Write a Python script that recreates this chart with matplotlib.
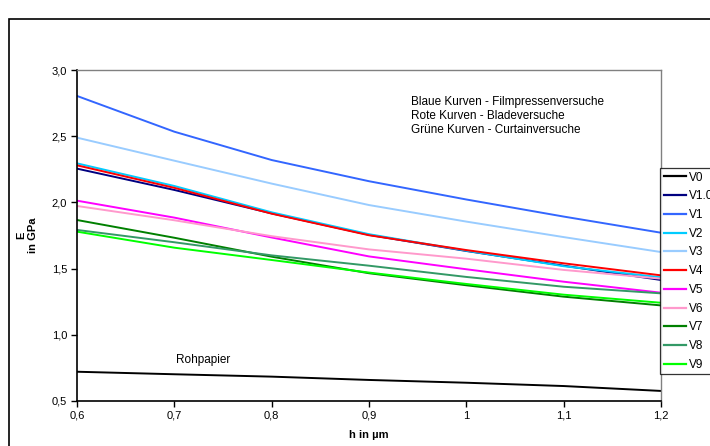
import matplotlib
matplotlib.use("Agg")
import matplotlib.pyplot as plt
from matplotlib.patches import Rectangle
from matplotlib.ticker import FuncFormatter, MultipleLocator

plt.rcParams['font.family'] = ['Liberation Sans', 'DejaVu Sans']

# Schichtdicke h in µm
h = [0.6, 0.7, 0.8, 0.9, 1.0, 1.1, 1.2]

# E-Modul in GPa je Versuch
V0 = [0.721, 0.702, 0.684, 0.659, 0.638, 0.613, 0.576]
V1_0 = [2.255, 2.094, 1.917, 1.755, 1.633, 1.522, 1.414]
V1 = [2.804, 2.534, 2.320, 2.160, 2.022, 1.893, 1.771]
V2 = [2.295, 2.124, 1.925, 1.760, 1.635, 1.518, 1.434]
V3 = [2.489, 2.315, 2.142, 1.980, 1.855, 1.738, 1.625]
V4 = [2.280, 2.110, 1.915, 1.752, 1.640, 1.540, 1.449]
V5 = [2.013, 1.885, 1.735, 1.592, 1.495, 1.401, 1.318]
V6 = [1.973, 1.865, 1.745, 1.645, 1.575, 1.490, 1.424]
V7 = [1.867, 1.733, 1.590, 1.465, 1.374, 1.288, 1.222]
V8 = [1.792, 1.699, 1.600, 1.522, 1.437, 1.363, 1.313]
V9 = [1.779, 1.658, 1.565, 1.470, 1.384, 1.303, 1.242]

namen = ["V0", "V1.0", "V1", "V2", "V3", "V4", "V5", "V6", "V7", "V8", "V9"]
reihen = [V0, V1_0, V1, V2, V3, V4, V5, V6, V7, V8, V9]
farben = ["#000000", "#000080", "#3366FF", "#00CCFF", "#99CCFF", "#FF0000",
          "#FF00FF", "#FF99CC", "#008000", "#339966", "#00FF00"]

fig = plt.figure(figsize=(7.10, 4.46), dpi=100)
# Rahmen um den Diagrammbereich
fig.patches.append(Rectangle((8.5 / 710, -0.1), 1.2, 1 - 19 / 446 + 0.1,
                             transform=fig.transFigure, fill=False,
                             edgecolor="black", linewidth=1.2))

ax = fig.add_axes([77 / 710, 1 - 401 / 446, 584 / 710, 331 / 446])
for name, werte, farbe in zip(namen, reihen, farben):
    ax.plot(h, werte, color=farbe, linewidth=1.4, label=name)

ax.set_xlim(0.6, 1.2)
ax.set_ylim(0.5, 3.0)
ax.xaxis.set_major_locator(MultipleLocator(0.1))
ax.yaxis.set_major_locator(MultipleLocator(0.5))
ax.xaxis.set_major_formatter(FuncFormatter(lambda v, p: f"{round(v, 1):g}".replace(".", ",")))
ax.yaxis.set_major_formatter(FuncFormatter(lambda v, p: f"{v:.1f}".replace(".", ",")))
ax.tick_params(direction="out", length=4, width=1, labelsize=8, pad=3, colors="black")

for s in ["left", "bottom"]:
    ax.spines[s].set_color("black")
    ax.spines[s].set_linewidth(1.2)
for s in ["top", "right"]:
    ax.spines[s].set_color("#808080")
    ax.spines[s].set_linewidth(1.0)

ax.set_xlabel("h in µm", fontsize=8, fontweight="bold", labelpad=7)
fig.text(27 / 710, 1 - 235 / 446, "E\nin GPa", rotation=90, ha="center", va="center",
         multialignment="center", fontsize=8, fontweight="bold")

fig.text(176 / 710, 1 - 360 / 446, "Rohpapier", fontsize=8.5, va="center", ha="left")
fig.text(411 / 710, 1 - 116 / 446,
         "Blaue Kurven - Filmpressenversuche\nRote Kurven - Bladeversuche\nGrüne Kurven - Curtainversuche",
         fontsize=8.5, ha="left", va="center", linespacing=1.25)

leg = ax.legend(loc="upper left", bbox_to_anchor=(660 / 710, 1 - 168 / 446),
                bbox_transform=fig.transFigure, fontsize=8.5, frameon=True,
                fancybox=False, borderpad=0.3, labelspacing=0.57,
                handlelength=1.9, handletextpad=0.25, borderaxespad=0)
leg.get_frame().set_edgecolor("black")
leg.get_frame().set_linewidth(0.9)
for line in leg.get_lines():
    line.set_linewidth(1.6)

plt.savefig("out.png", dpi=100)
